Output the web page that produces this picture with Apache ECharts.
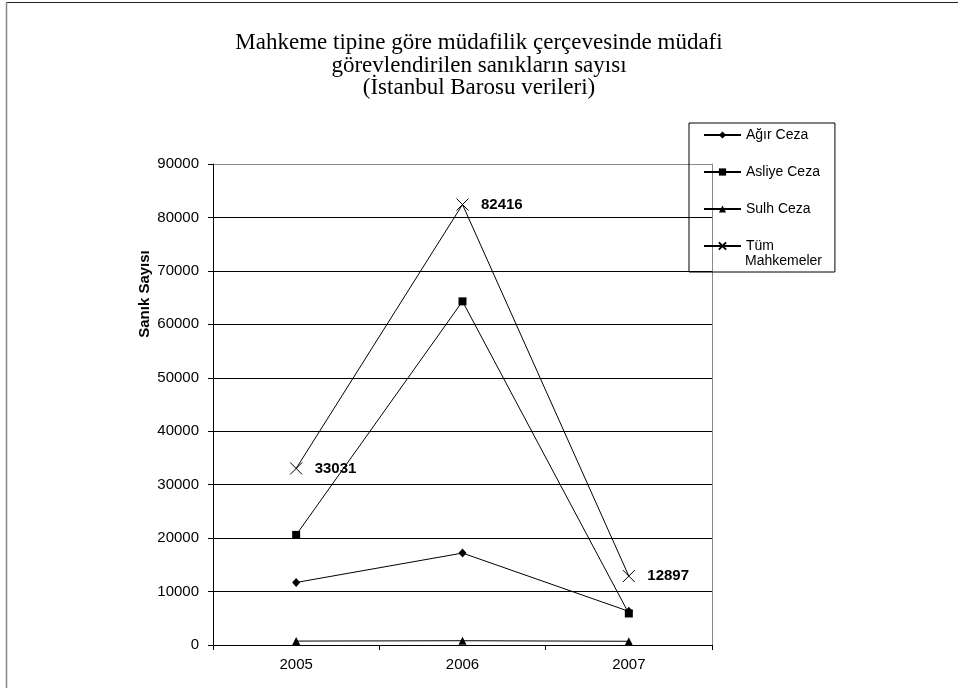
<!DOCTYPE html>
<html><head><meta charset="utf-8">
<script src="https://cdn.jsdelivr.net/npm/echarts@6/dist/echarts.min.js"></script>
<style>html,body{margin:0;padding:0;background:#fff}#c{width:958px;height:688px}</style>
</head><body><div id="c"></div>
<script>
// ---- data ----
const categories = ['2005', '2006', '2007'];
const agirCeza = [11700, 17200, 6300];
const asliyeCeza = [20600, 64300, 5900];
const sulhCeza = [731, 800, 697];
const tumMahkemeler = [33031, 82416, 12897];
const yMin = 0, yMax = 90000, yInterval = 10000;
const seriesNames = ['Ağır Ceza', 'Asliye Ceza', 'Sulh Ceza', 'Tüm Mahkemeler'];
const titleText = 'Mahkeme tipine göre müdafilik çerçevesinde müdafi\ngörevlendirilen sanıkların sayısı\n(İstanbul Barosu verileri)';
const yAxisTitle = 'Sanık Sayısı';

// ---- chart ----
const SANS = 'Liberation Sans, Arial, sans-serif';
const SERIF = 'Liberation Serif, Times New Roman, serif';
const chart = echarts.init(document.getElementById('c'), null, {renderer: 'canvas'});
const crossPath = 'path://M0,0L10,10M10,0L0,10';
const gridColors = [];
for (let v = yMin; v <= yMax; v += yInterval) gridColors.push(v === yMax ? '#8a8a8a' : '#000');

function lineSeries(name, data, symbol, size, extra) {
  return Object.assign({
    name: name, type: 'line', data: data, symbol: symbol, symbolSize: size,
    showAllSymbol: true,
    lineStyle: {color: '#000', width: 1},
    itemStyle: {color: '#000', borderWidth: 0},
    emphasis: {disabled: true},
    z: 3
  }, extra || {});
}

chart.setOption({
  animation: false,
  backgroundColor: '#fff',
  title: {
    text: titleText, left: 'center', top: 32, padding: 0,
    textStyle: {fontFamily: SERIF, fontSize: 23, fontWeight: 'normal', color: '#000', lineHeight: 22.5}
  },
  legend: {
    orient: 'vertical', left: 689, top: 123,
    padding: [4, 15, 18, 14],
    borderColor: '#000', borderWidth: 1,
    itemWidth: 37, itemHeight: 9, itemGap: 21,
    data: seriesNames,
    formatter: function (n) { return n === 'Tüm Mahkemeler' ? 'Tüm' : n; },
    textStyle: {fontFamily: SANS, fontSize: 14, color: '#000', lineHeight: 16}
  },
  grid: {left: 213, top: 164, width: 499, height: 481, containLabel: false},
  xAxis: {
    type: 'category', data: categories, boundaryGap: true,
    axisLine: {lineStyle: {color: '#000', width: 1}},
    axisTick: {show: true, length: 5, alignWithLabel: false, lineStyle: {color: '#000'}},
    axisLabel: {fontFamily: SANS, fontSize: 15, color: '#000', margin: 12},
    splitLine: {show: false}
  },
  yAxis: [{
    type: 'value', min: yMin, max: yMax, interval: yInterval,
    axisLine: {show: true, lineStyle: {color: '#000', width: 1}},
    axisTick: {show: true, length: 5, lineStyle: {color: '#000'}},
    axisLabel: {fontFamily: SANS, fontSize: 15, color: '#000', margin: 14,
      formatter: function (v) { return String(v); }},
    splitLine: {show: true, lineStyle: {color: gridColors, width: 1}}
  }, {
    type: 'value', min: yMin, max: yMax, interval: yInterval, position: 'right',
    axisLine: {show: true, lineStyle: {color: '#8a8a8a', width: 1}},
    axisTick: {show: false}, axisLabel: {show: false}, splitLine: {show: false}
  }],
  graphic: [
    {type: 'line', shape: {x1: 6, y1: 2.5, x2: 958, y2: 2.5}, style: {stroke: '#222', lineWidth: 1}, z: 10},
    {type: 'line', shape: {x1: 6.5, y1: 2, x2: 6.5, y2: 688}, style: {stroke: '#888', lineWidth: 1.5}, z: 10},
    {type: 'text', x: 145, y: 294, rotation: Math.PI / 2,
      style: {text: yAxisTitle, fontFamily: SANS, fontSize: 15, fontWeight: 'bold', fill: '#000',
        textAlign: 'center', textVerticalAlign: 'middle'}},
    {type: 'text', left: 745, top: 254,
      style: {text: 'Mahkemeler', fontFamily: SANS, fontSize: 14, fill: '#000'}}
  ],
  series: [
    lineSeries(seriesNames[0], agirCeza, 'diamond', [8, 9]),
    lineSeries(seriesNames[1], asliyeCeza, 'rect', 8),
    lineSeries(seriesNames[2], sulhCeza, 'triangle', 8),
    lineSeries(seriesNames[3], tumMahkemeler, crossPath, 12, {
      itemStyle: {color: 'transparent', borderColor: '#000', borderWidth: 1},
      label: {show: true, position: 'right', distance: 12, fontFamily: SANS, fontSize: 15,
        fontWeight: 'bold', color: '#000'}
    })
  ]
});
</script>
</body></html>
